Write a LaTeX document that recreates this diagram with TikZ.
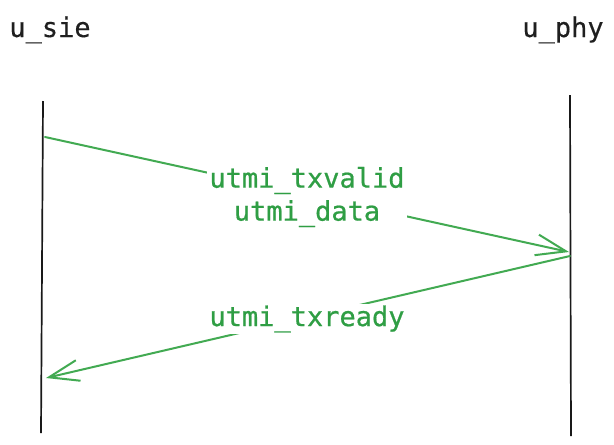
\documentclass[tikz,border=0pt]{standalone}
\usepackage{fontspec}
\newfontfamily\hdrfont[FakeBold=0.3]{DejaVu Sans Mono}
\newfontfamily\lblfont[FakeBold=0.7]{DejaVu Sans Mono}
\usetikzlibrary{arrows.meta}
\definecolor{msgline}{RGB}{66,170,82}
\definecolor{msgtext}{RGB}{47,158,68}
\begin{document}
\begin{tikzpicture}[x=1pt,y=-1pt,
  lifeline/.style={draw=black!90,line width=1.7pt},
  header/.style={font=\hdrfont\fontsize{27}{33}\selectfont,text=black!88,inner sep=0pt,anchor=base},
  msg/.style={draw=msgline,line width=2pt,line cap=round,
    -{Straight Barb[length=30pt,width=21pt,line width=2pt]}},
  msglabel/.style={font=\lblfont\fontsize{27}{33}\selectfont,text=msgtext,fill=white,
    align=center,inner sep=2pt}]
\useasboundingbox (0,0) rectangle (614,445);
\fill[white] (0,0) rectangle (614,445);
% headers
\node[header] (sie) at (50,37) {u\_sie};
\node[header] (phy) at (563,37) {u\_phy};
% lifelines
\coordinate (sieTop) at (43,101);
\coordinate (sieBot) at (41,433);
\coordinate (phyTop) at (570,95);
\coordinate (phyBot) at (571,436);
\draw[lifeline] (sieTop) -- (sieBot);
\draw[lifeline] (phyTop) -- (phyBot);
% message end points
\coordinate (m1s) at (45,137);
\coordinate (m1e) at (569,252);
\coordinate (m2s) at (570,256);
\coordinate (m2e) at (46,378);
\draw[msg] (m1s) -- (m1e);
\draw[msg] (m2s) -- (m2e);
% labels
\node[msglabel] (l1) at (307,197) {utmi\_txvalid\\utmi\_data};
\node[msglabel] (l2) at (307,319) {utmi\_txready};
\end{tikzpicture}
\end{document}
